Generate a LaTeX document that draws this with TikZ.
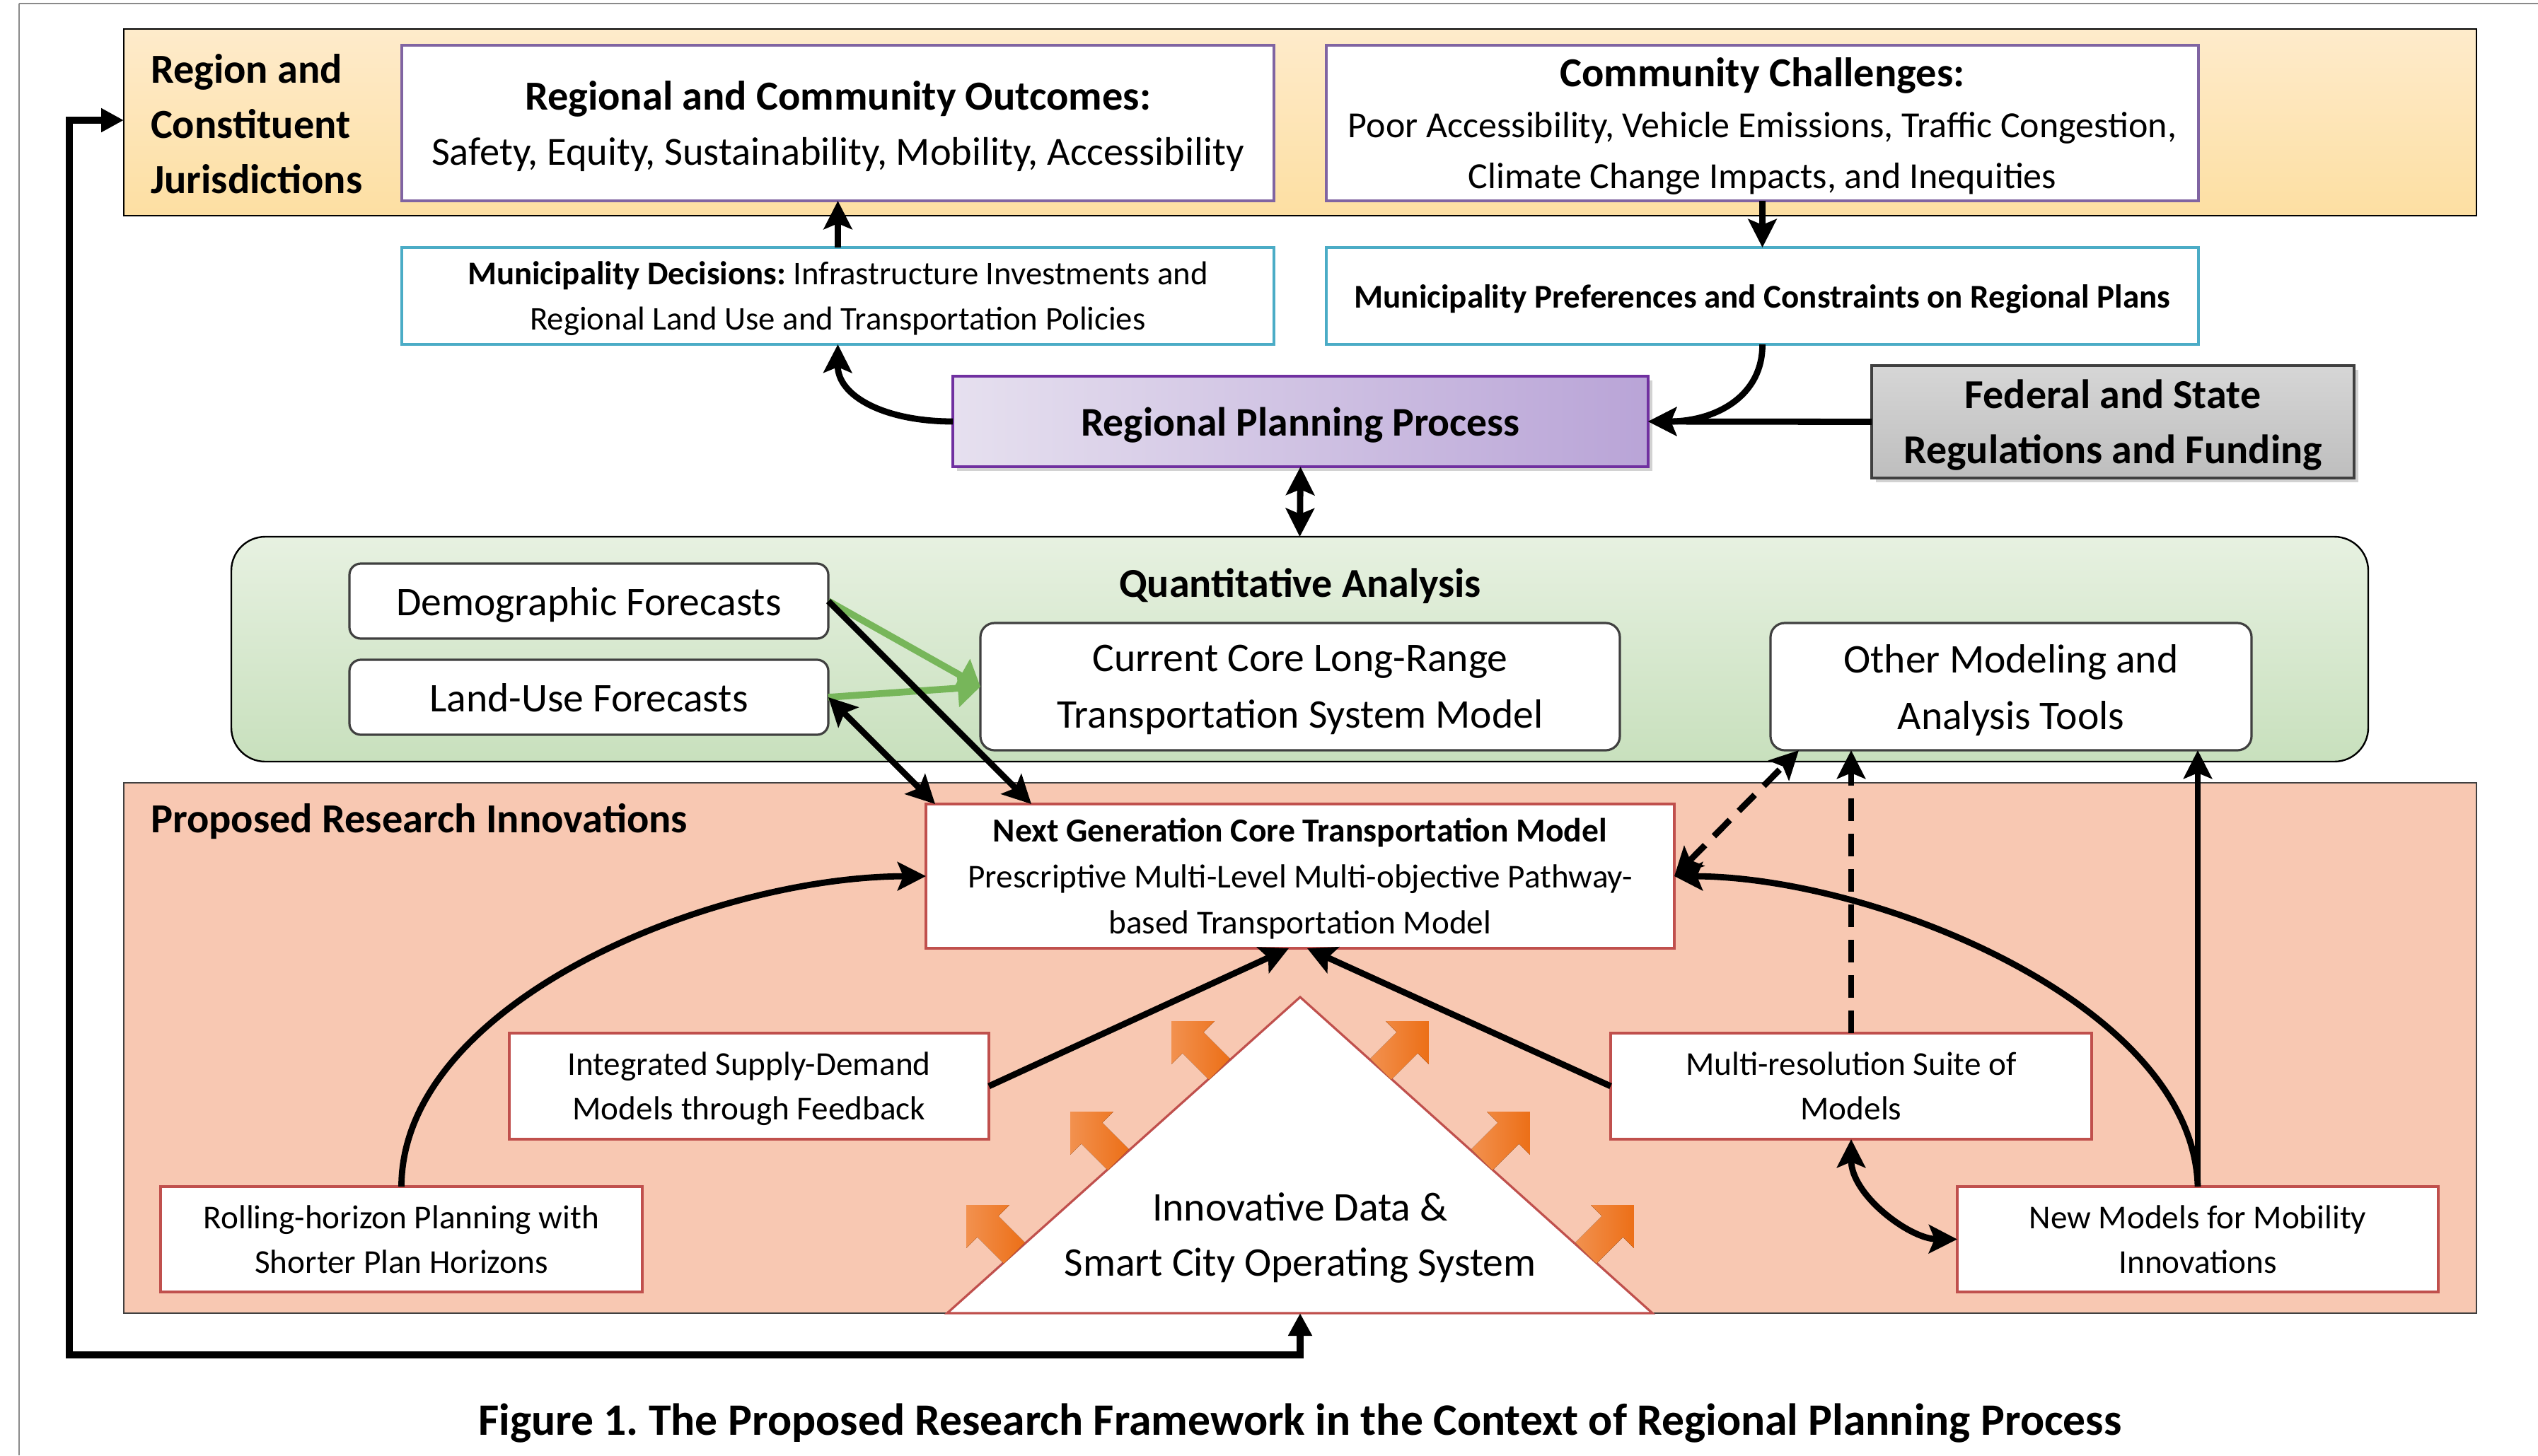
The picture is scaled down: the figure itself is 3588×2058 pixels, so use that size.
\documentclass[tikz,border=0pt]{standalone}
\usepackage{fontspec}
\setmainfont{Carlito}
\usetikzlibrary{arrows.meta,shadows}
\frenchspacing

\definecolor{bandyellowT}{HTML}{FEEBCB}
\definecolor{bandyellowB}{HTML}{FDDFA2}
\definecolor{outlinepurple}{HTML}{8064A2}
\definecolor{outlinecyan}{HTML}{4BACC6}
\definecolor{planL}{HTML}{E6E0EF}
\definecolor{planR}{HTML}{B9A4D7}
\definecolor{planborder}{HTML}{7030A0}
\definecolor{fedT}{HTML}{D6D6D6}
\definecolor{fedB}{HTML}{BEBEBE}
\definecolor{greenT}{HTML}{E7F1E1}
\definecolor{greenB}{HTML}{C8E0BD}
\definecolor{peach}{HTML}{F8C8B2}
\definecolor{redline}{HTML}{C0504D}
\definecolor{arrowgreen}{HTML}{77B65A}
\definecolor{orangeL}{HTML}{F2914F}
\definecolor{orangeD}{HTML}{EC6F17}
\definecolor{edgegray}{HTML}{404040}
\definecolor{pagegray}{HTML}{8A8A8A}

\newcommand\pxl[1]{#1*0.25pt}

\begin{document}
\begin{tikzpicture}[x=0.25pt,y=-0.25pt,
  boxbase/.style={inner sep=0pt, outer sep=0pt, align=center, text depth=0pt},
  plainbox/.style={boxbase, draw, fill=white, line width=0.8pt},
  purplebox/.style={plainbox, draw=outlinepurple},
  cyanbox/.style={plainbox, draw=outlinecyan},
  redbox/.style={plainbox, draw=redline},
  roundbox/.style={plainbox, draw=edgegray, rounded corners=4pt},
  conn/.style={line width=2.2pt, -{Stealth[length=10pt,width=10pt,inset=2pt]}},
  dconn/.style={line width=2.2pt, {Stealth[length=10pt,width=10pt,inset=2pt]}-{Stealth[length=10pt,width=10pt,inset=2pt]}},
  garrow/.style={arrowgreen, line width=2.4pt, -{Triangle[length=8pt,width=13pt]}},
  dashconn/.style={line width=2.2pt, dash pattern=on 8pt off 4.5pt},
  pics/burst/.style={code={
    \fill[left color=orangeL, right color=orangeD]
      (0,-21) -- (53,-21) -- (53,-43) -- (96,0) -- (53,43) -- (53,21) -- (0,21) -- cycle;
  }}
]
\useasboundingbox (0,0) rectangle (3588,2058);
\fill[white] (0,0) rectangle (3588,2058);

% page edges
\draw[pagegray, line width=0.6pt] (27,5) -- (3588,5);
\draw[pagegray, line width=0.6pt] (27,5) -- (27,2058);

% ---------- region band ----------
\node[boxbase, draw=black, line width=0.6pt, top color=bandyellowT, bottom color=bandyellowB,
      minimum width=\pxl{3326}, minimum height=\pxl{264}] (region) at (1838,173) {};
\node[boxbase, anchor=west, align=left, font=\fontsize{14.6}{19.5}\selectfont\bfseries] (regionlbl) at (213,175)
  {Region and\\Constituent\\Jurisdictions};

\node[purplebox, minimum width=\pxl{1233}, minimum height=\pxl{220}, font=\fontsize{14.1}{19.5}\selectfont] (outcomes) at (1184.5,174)
  {{\fontsize{14.6}{19.5}\selectfont\textbf{Regional and Community Outcomes:}}\\Safety, Equity, Sustainability, Mobility, Accessibility};
\node[purplebox, minimum width=\pxl{1233}, minimum height=\pxl{220}, font=\fontsize{13}{18}\selectfont] (chall) at (2491.5,174)
  {{\fontsize{14.6}{18}\selectfont\textbf{Community Challenges:}}\\Poor Accessibility, Vehicle Emissions, Traffic Congestion,\\Climate Change Impacts, and Inequities};

% ---------- municipality boxes ----------
\node[cyanbox, minimum width=\pxl{1233}, minimum height=\pxl{137}, font=\fontsize{11.7}{16}\selectfont] (decis) at (1184.5,418.5)
  {\textbf{Municipality Decisions:} Infrastructure Investments and\\Regional Land Use and Transportation Policies};
\node[cyanbox, minimum width=\pxl{1233}, minimum height=\pxl{137}, font=\fontsize{11.75}{16}\selectfont\bfseries] (pref) at (2491.5,418.5)
  {Municipality Preferences and Constraints on Regional Plans};

% ---------- planning ----------
\node[boxbase, draw=planborder, line width=1pt, left color=planL, right color=planR,
      drop shadow={shadow xshift=1.5pt, shadow yshift=-1.5pt, opacity=0.35},
      minimum width=\pxl{983}, minimum height=\pxl{128}, font=\fontsize{14.4}{18}\selectfont\bfseries] (plan) at (1838.5,596)
  {Regional Planning Process};
\node[boxbase, draw=edgegray, line width=0.8pt, top color=fedT, bottom color=fedB,
      drop shadow={shadow xshift=1.5pt, shadow yshift=-1.5pt, opacity=0.35},
      minimum width=\pxl{682}, minimum height=\pxl{159}, font=\fontsize{14.5}{19.5}\selectfont\bfseries] (fed) at (2987,596.5)
  {Federal and State\\Regulations and Funding};

% ---------- quantitative analysis ----------
\node[boxbase, draw=black, line width=0.6pt, rounded corners=12pt, top color=greenT, bottom color=greenB,
      minimum width=\pxl{3021}, minimum height=\pxl{318}] (quant) at (1837.5,918) {};
\node[boxbase, font=\fontsize{14.5}{18}\selectfont\bfseries] (quanttitle) at (1838,824) {Quantitative Analysis};
\node[roundbox, minimum width=\pxl{677}, minimum height=\pxl{106}, font=\fontsize{14.4}{19}\selectfont] (demo) at (832.5,850)
  {Demographic Forecasts};
\node[roundbox, minimum width=\pxl{677}, minimum height=\pxl{106}, font=\fontsize{14.4}{19}\selectfont] (landuse) at (832.5,986)
  {Land-Use Forecasts};
\node[roundbox, rounded corners=5pt, minimum width=\pxl{904}, minimum height=\pxl{180}, font=\fontsize{14.4}{20}\selectfont] (core) at (1838,971)
  {Current Core Long-Range\\Transportation System Model};
\node[roundbox, rounded corners=5pt, minimum width=\pxl{680}, minimum height=\pxl{180}, font=\fontsize{14.4}{20}\selectfont] (other) at (2843,971)
  {Other Modeling and\\Analysis Tools};

% ---------- research innovations ----------
\node[boxbase, draw=edgegray, line width=0.6pt, fill=peach,
      minimum width=\pxl{3326}, minimum height=\pxl{750}] (research) at (1838,1482) {};
\node[boxbase, anchor=west, font=\fontsize{14.6}{18}\selectfont\bfseries] (researchlbl) at (213,1157)
  {Proposed Research Innovations};

\node[redbox, minimum width=\pxl{1058}, minimum height=\pxl{204}, font=\fontsize{11.8}{16.25}\selectfont] (nextgen) at (1838,1239)
  {{\fontsize{11.9}{16.25}\selectfont\textbf{Next Generation Core Transportation Model}}\\Prescriptive Multi-Level Multi-objective Pathway-\\based Transportation Model};
\node[redbox, minimum width=\pxl{678}, minimum height=\pxl{150}, font=\fontsize{11.8}{15.75}\selectfont] (integ) at (1059,1536)
  {Integrated Supply-Demand\\Models through Feedback};
\node[redbox, minimum width=\pxl{680}, minimum height=\pxl{150}, font=\fontsize{11.8}{15.75}\selectfont] (multires) at (2617,1536)
  {Multi-resolution Suite of\\Models};
\node[redbox, minimum width=\pxl{681}, minimum height=\pxl{149}, font=\fontsize{11.8}{15.75}\selectfont] (rolling) at (567.5,1752.5)
  {Rolling-horizon Planning with\\Shorter Plan Horizons};
\node[redbox, minimum width=\pxl{680}, minimum height=\pxl{149}, font=\fontsize{11.8}{15.75}\selectfont] (newmod) at (3107,1752.5)
  {New Models for Mobility\\Innovations};

% data triangle with its outward arrows
\coordinate (triapex) at (1838,1410);
\coordinate (tribase) at (1838,1857);
\draw[redline, fill=white, line width=0.8pt] (triapex) -- (2336,1857) -- (1339,1857) -- cycle;
\node[boxbase, font=\fontsize{14.4}{19.5}\selectfont] (tritext) at (1838,1746)
  {Innovative Data \&\\Smart City Operating System};
\pic[rotate=135] at (1724,1512) {burst};
\pic[rotate=135] at (1581,1640) {burst};
\pic[rotate=135] at (1434,1772) {burst};
\pic[rotate=45] at (1952,1512) {burst};
\pic[rotate=45] at (2095,1640) {burst};
\pic[rotate=45] at (2242,1772) {burst};

% ---------- connectors ----------
\draw[conn] (decis.north) -- (outcomes.south);
\draw[conn] (chall.south) -- (pref.north);
\draw[conn] (plan.west) .. controls (1250,596) and (1184,560) .. (decis.south);
\draw[conn] (pref.south) .. controls (2492,560) and (2426,596) .. (plan.east);
\draw[conn] (fed.west) -- (plan.east);
\draw[dconn] (plan.south) -- (quant.north);

\draw[garrow] (demo.east) -- (core.west);
\draw[garrow] (landuse.east) -- (core.west);
\draw[conn] (demo.east) -- ([xshift=37.25pt]nextgen.north west);
\draw[dconn] (landuse.east) -- ([xshift=3.25pt]nextgen.north west);

\draw[dashconn, {Stealth[length=10pt,width=10pt,inset=2pt]}-{Stealth[length=10pt,width=10pt,inset=2pt]}]
  (nextgen.east) -- ([xshift=10pt]other.south west);
\draw[dashconn, -{Stealth[length=10pt,width=10pt,inset=2pt]}] (multires.north) -- (multires.north |- other.south);
\draw[conn] (newmod.north) -- (newmod.north |- other.south);
\draw[conn] (newmod.north) .. controls (3100,1420) and (2650,1240) .. (nextgen.east);
\draw[conn] (rolling.north) .. controls (568,1420) and (1000,1240) .. (nextgen.west);
\draw[conn] (integ.east) -- ([xshift=-4pt]nextgen.south);
\draw[conn] (multires.west) -- ([xshift=2.5pt]nextgen.south);
\draw[dconn] (multires.south) .. controls (2617,1690) and (2700,1752) .. (newmod.west);

% feedback loop from the data system back to the region
\coordinate (loopA) at (1838,1916);
\coordinate (loopB) at (98,1916);
\coordinate (loopC) at (98,170);
\draw[line width=2.5pt, line join=miter, {Triangle[length=8pt,width=8pt]}-{Triangle[length=8pt,width=8pt]}]
  (tribase) -- (loopA) -- (loopB) -- (loopC) -- (loopC -| region.west);

% caption
\node[boxbase, font=\fontsize{15.9}{18}\selectfont\bfseries] (caption) at (1838,2007)
  {Figure 1. The Proposed Research Framework in the Context of Regional Planning Process};
\end{tikzpicture}
\end{document}
